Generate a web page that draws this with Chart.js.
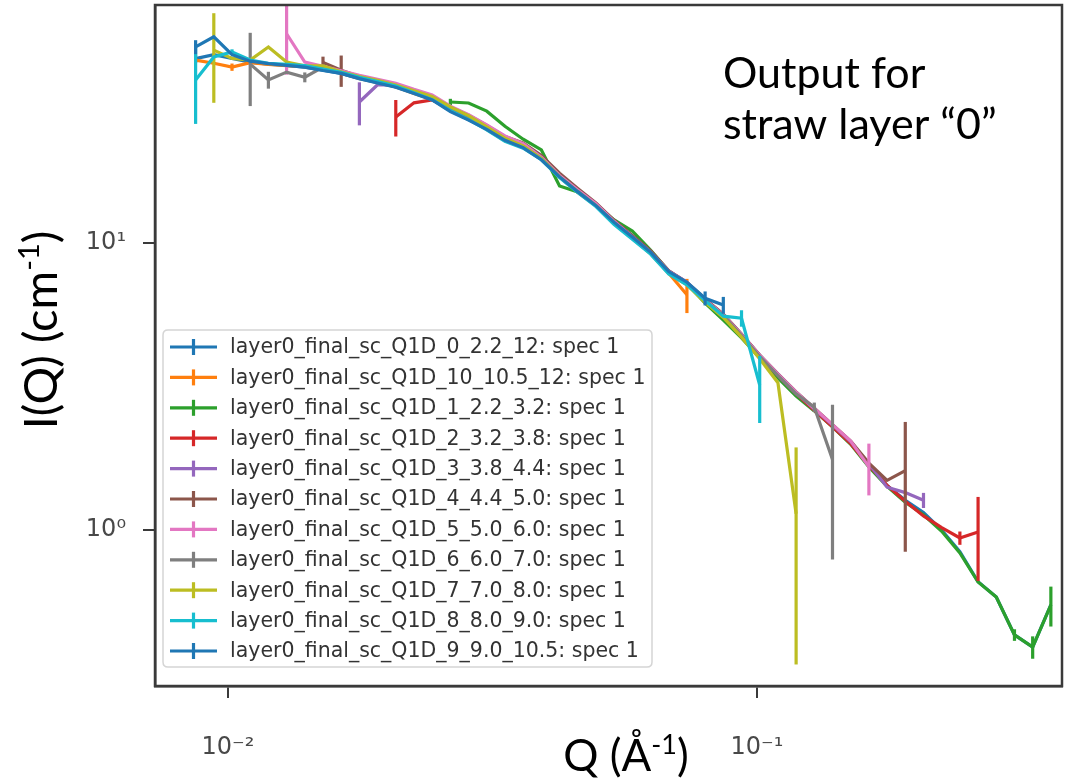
<!DOCTYPE html>
<html><head><meta charset="utf-8">
<script src="https://cdn.jsdelivr.net/npm/chart.js@4/dist/chart.umd.min.js"></script>
<style>html,body{margin:0;padding:0;background:#fff;}</style>
</head><body>
<canvas id="c" width="1069" height="778"></canvas>
<script>
const _ = null;
// Q grid (Å^-1)
const Q = [0.008685,0.009401,0.010176,0.011015,0.011923,0.012906,0.013970,0.015121,0.016368,0.017717,
0.019177,0.020758,0.022469,0.024321,0.026326,0.028496,0.030845,0.033388,0.036140,0.039119,
0.042344,0.045834,0.049612,0.053702,0.058129,0.062921,0.068108,0.073722,0.079799,0.086377,
0.093497,0.10120,0.10955,0.11858,0.12835,0.13893,0.15039,0.16278,0.17620,0.19072,
0.20645,0.22346,0.24189,0.26182,0.28341,0.30677,0.33206,0.35943];

const seriesNames = [
"layer0_final_sc_Q1D_0_2.2_12: spec 1",
"layer0_final_sc_Q1D_10_10.5_12: spec 1",
"layer0_final_sc_Q1D_1_2.2_3.2: spec 1",
"layer0_final_sc_Q1D_2_3.2_3.8: spec 1",
"layer0_final_sc_Q1D_3_3.8_4.4: spec 1",
"layer0_final_sc_Q1D_4_4.4_5.0: spec 1",
"layer0_final_sc_Q1D_5_5.0_6.0: spec 1",
"layer0_final_sc_Q1D_6_6.0_7.0: spec 1",
"layer0_final_sc_Q1D_7_7.0_8.0: spec 1",
"layer0_final_sc_Q1D_8_8.0_9.0: spec 1",
"layer0_final_sc_Q1D_9_9.0_10.5: spec 1"];

// I(Q) values (cm^-1), aligned with Q
const I_0 = [43.9,45.3,44.0,42.7,42.0,41.6,41.0,40.0,39.0,37.5,
36.3,35.1,33.4,31.8,29.5,27.4,25.3,23.1,21.7,19.6,
17.2,15.3,13.6,11.9,10.5,9.3,7.95,7.25,6.35,5.6,
4.8,4.05,3.48,3.0,2.62,2.30,2.01,1.69,1.43,1.27,
1.15,1.0,0.84,0.66,0.584,0.431,0.391,0.548];
const I_10 = [43.4,42.3,41.0,42.5,41.9,41.5,41.2,40.3,39.2,37.8,
36.5,35.0,33.2,31.6,29.0,27.0,24.9,22.7,21.5,19.6,
17.0,15.0,13.5,11.7,10.4,9.2,7.85,6.6,_,_,
_,_,_,_,_,_,_,_,_,_,
_,_,_,_,_,_,_,_];
const I_1 = [_,_,_,_,_,_,_,_,_,_,
_,_,_,_,31.0,30.75,28.8,25.5,23.0,21.1,
15.8,15.06,13.6,12.03,11.0,9.45,7.99,7.2,6.18,5.39,
4.67,3.98,3.39,2.93,2.60,2.29,1.99,1.66,1.42,1.25,
1.13,0.99,0.832,0.659,0.584,0.431,0.391,0.548];
const I_2 = [_,_,_,_,_,_,_,_,_,_,
_,27.5,30.8,31.5,29.4,27.5,25.4,23.2,21.9,19.8,
17.1,15.2,13.6,11.8,10.5,9.3,7.9,7.25,6.3,5.58,
4.76,4.03,3.46,2.99,2.61,2.29,2.0,1.68,1.43,1.26,
1.12,1.02,0.938,0.984,_,_,_,_];
const I_3 = [_,_,_,_,_,_,_,_,_,31.0,
35.6,35.4,33.8,32.2,29.6,27.6,25.5,23.3,22.0,20.0,
17.3,15.3,13.7,11.9,10.6,9.35,8.0,7.3,6.35,5.62,
4.8,4.06,3.5,3.02,2.64,2.32,2.03,1.7,1.41,1.35,
1.27,_,_,_,_,_,_,_];
const I_4 = [_,_,_,_,_,_,_,42.6,40.0,38.0,
36.8,35.6,33.9,32.3,29.8,27.9,25.7,23.5,22.3,20.2,
17.5,15.5,13.8,12.0,10.6,9.4,8.0,7.3,6.38,5.65,
4.82,4.07,3.5,3.03,2.66,2.33,2.04,1.71,1.49,1.61,
_,_,_,_,_,_,_,_];
const I_5 = [_,_,_,_,_,53.6,42.7,41.3,39.8,38.4,
37.2,36.0,34.3,32.8,30.0,28.0,25.8,23.6,22.2,19.9,
17.2,15.3,13.7,11.9,10.5,9.3,7.96,7.3,6.35,5.62,
4.8,4.06,3.49,3.02,2.65,2.33,2.04,1.66,_,_,
_,_,_,_,_,_,_,_];
const I_6 = [_,_,_,42.0,37.0,39.4,37.8,41.0,39.0,37.4,
36.2,35.0,33.3,31.8,29.2,27.2,25.1,22.9,21.7,19.7,
17.0,15.1,13.5,11.8,10.4,9.25,7.9,7.22,6.3,5.58,
4.76,4.02,3.45,2.98,2.68,1.76,_,_,_,_,
_,_,_,_,_,_,_,_];
const I_7 = [_,47.0,44.0,43.4,48.2,42.7,41.4,41.4,39.5,38.0,
36.9,35.5,33.9,32.4,29.8,27.8,25.4,23.2,21.8,19.7,
17.0,15.1,13.5,11.7,10.4,9.2,7.85,7.15,6.22,5.5,
4.7,3.95,3.26,1.14,_,_,_,_,_,_,
_,_,_,_,_,_,_,_];
const I_8 = [37.0,44.5,46.3,43.4,42.3,41.9,41.5,40.4,39.3,37.8,
36.5,35.2,33.4,31.6,28.9,26.9,24.8,22.6,21.4,19.5,
16.9,15.0,13.4,11.6,10.3,9.15,7.8,7.15,6.3,5.56,
5.47,3.2,_,_,_,_,_,_,_,_,
_,_,_,_,_,_,_,_];
const I_9 = [48.2,52.3,45.3,43.0,42.2,41.6,41.0,39.9,39.0,37.4,
36.1,34.9,33.2,31.5,28.7,26.8,24.9,22.8,21.5,19.5,
17.0,15.1,13.5,11.8,10.5,9.3,7.95,7.3,6.42,6.08,
_,_,_,_,_,_,_,_,_,_,
_,_,_,_,_,_,_,_];

// error bars: [index into Q, ±dI]
const E_0 = [[0,1.5]];
const E_10 = [[2,1.2],[27,0.9]];
const E_1 = [[14,0.8],[45,0.02],[46,0.035],[47,0.087]];
const E_2 = [[11,4.0],[42,0.05],[43,0.32]];
const E_3 = [[9,5.3],[40,0.077]];
const E_4 = [[7,2.0],[8,5.0],[39,0.77]];
const E_5 = [[5,15],[37,0.34]];
const E_6 = [[3,12],[4,2.5],[6,1.5],[34,0.1],[35,0.97]];
const E_7 = [[1,16.2],[33,0.80]];
const E_8 = [[0,11],[2,1.0],[30,0.36],[31,0.84]];
const E_9 = [[0,2.7],[28,0.36],[29,0.41]];

const xTicks = [0.01, 0.1];
const xTickLabels = ["10\u207B\u00B2", "10\u207B\u00B9"];
const yTicks = [1, 10];
const yTickLabels = ["10\u2070", "10\u00B9"];

const seriesI = [I_0,I_10,I_1,I_2,I_3,I_4,I_5,I_6,I_7,I_8,I_9];
const seriesE = [E_0,E_10,E_1,E_2,E_3,E_4,E_5,E_6,E_7,E_8,E_9];
const palette = ['#1f77b4','#ff7f0e','#2ca02c','#d62728','#9467bd','#8c564b','#e377c2','#7f7f7f','#bcbd22','#17becf','#1f77b4'];

const datasets = seriesI.map((arr, s) => ({
  label: seriesNames[s],
  data: Q.map((q, i) => arr[i] == null ? null : {x: q, y: arr[i]}).filter(p => p),
  src: arr, errs: seriesE[s],
  order: -s, // later series drawn on top, as in the original plot
  borderColor: palette[s], backgroundColor: palette[s],
  borderWidth: 3.2, pointRadius: 0, showLine: true, fill: false, tension: 0
}));

const errorBars = {
  id: 'errorBars',
  afterDatasetDraw(chart, args) {
    const ds = chart.data.datasets[args.index];
    const {ctx, chartArea: a, scales: {x, y}} = chart;
    ctx.save();
    ctx.beginPath(); ctx.rect(a.left, a.top, a.right - a.left, a.bottom - a.top); ctx.clip();
    ctx.strokeStyle = ds.borderColor; ctx.lineWidth = ds.borderWidth; ctx.lineCap = 'butt';
    for (const [k, d] of ds.errs) {
      const v = ds.src[k];
      const px = x.getPixelForValue(Q[k]);
      const top = y.getPixelForValue(v + d);
      const bot = (v - d) > 0 ? y.getPixelForValue(v - d) : a.bottom + 20;
      ctx.beginPath(); ctx.moveTo(px, top); ctx.lineTo(px, bot); ctx.stroke();
    }
    ctx.restore();
  }
};

function drawRich(ctx, parts, x, y, size, family, align) {
  const w = parts.reduce((s, [t, sup]) => {
    ctx.font = (sup ? Math.round(size * 0.62) : size) + 'px ' + family;
    return s + ctx.measureText(t).width;
  }, 0);
  let cx = align === 'center' ? x - w / 2 : x;
  ctx.textAlign = 'left'; ctx.textBaseline = 'alphabetic';
  for (const [t, sup] of parts) {
    ctx.font = (sup ? Math.round(size * 0.62) : size) + 'px ' + family;
    ctx.fillText(t, cx, sup ? y - size * 0.38 : y);
    cx += ctx.measureText(t).width;
  }
}

const decor = {
  id: 'decor',
  afterDraw(chart) {
    const {ctx, chartArea: a} = chart;
    ctx.save();
    ctx.strokeStyle = '#3a3a3a'; ctx.lineWidth = 2.5;
    ctx.strokeRect(a.left, a.top, a.right - a.left, a.bottom - a.top);

    // legend
    const lx = 163, ly = 330, lw = 489, lh = 337, r = 5;
    ctx.beginPath();
    ctx.moveTo(lx + r, ly); ctx.lineTo(lx + lw - r, ly); ctx.quadraticCurveTo(lx + lw, ly, lx + lw, ly + r);
    ctx.lineTo(lx + lw, ly + lh - r); ctx.quadraticCurveTo(lx + lw, ly + lh, lx + lw - r, ly + lh);
    ctx.lineTo(lx + r, ly + lh); ctx.quadraticCurveTo(lx, ly + lh, lx, ly + lh - r);
    ctx.lineTo(lx, ly + r); ctx.quadraticCurveTo(lx, ly, lx + r, ly); ctx.closePath();
    ctx.fillStyle = 'rgba(255,255,255,0.85)'; ctx.fill();
    ctx.strokeStyle = '#d5d5d5'; ctx.lineWidth = 1.5; ctx.stroke();
    chart.data.datasets.forEach((ds, i) => {
      const yy = 347 + i * 30.4;
      ctx.strokeStyle = ds.borderColor; ctx.lineWidth = 3.2;
      ctx.beginPath(); ctx.moveTo(170, yy); ctx.lineTo(217, yy); ctx.stroke();
      ctx.beginPath(); ctx.moveTo(193.5, yy - 8); ctx.lineTo(193.5, yy + 8); ctx.stroke();
      ctx.fillStyle = '#333'; ctx.font = '20.5px "DejaVu Sans"';
      ctx.textAlign = 'left'; ctx.textBaseline = 'middle';
      ctx.fillText(ds.label, 230, yy + 1);
    });

    // annotation
    ctx.fillStyle = '#000';
    ctx.font = '43px Lato'; ctx.textAlign = 'left'; ctx.textBaseline = 'alphabetic';
    ctx.fillText('Output for', 723, 88);
    ctx.fillText('straw layer \u201C0\u201D', 723, 139);

    // axis titles
    drawRich(ctx, [['Q (\u00C5', false], ['-1', true], [')', false]], 626, 771, 44, 'Lato', 'center');
    ctx.save();
    ctx.translate(57, 330); ctx.rotate(-Math.PI / 2);
    drawRich(ctx, [['I(Q) (cm', false], ['-1', true], [')', false]], 0, 0, 47, 'Lato', 'center');
    ctx.restore();
    ctx.restore();
  }
};

function zeroPad(s) { s.paddingTop = 0; s.paddingBottom = 0; s.paddingLeft = 0; s.paddingRight = 0; }

new Chart(document.getElementById('c'), {
  type: 'scatter',
  data: {datasets},
  options: {
    responsive: false, animation: false, devicePixelRatio: 1,
    layout: {padding: {left: 0, right: 7, top: 5, bottom: 0}},
    plugins: {legend: {display: false}, tooltip: {enabled: false}},
    scales: {
      x: {
        type: 'logarithmic', min: 0.0072778, max: 0.37728,
        afterBuildTicks: s => { s.ticks = xTicks.map(v => ({value: v})); },
        afterFit: s => { s.height = 92; zeroPad(s); },
        ticks: {autoSkip: false, maxRotation: 0, padding: 35, color: '#484848',
          font: {family: 'DejaVu Sans', size: 24},
          callback: v => xTickLabels[xTicks.indexOf(v)] ?? ''},
        grid: {drawOnChartArea: false, drawTicks: true, tickLength: 12, color: '#3a3a3a', lineWidth: 2},
        border: {display: true, color: '#3a3a3a', width: 2.5}
      },
      y: {
        type: 'logarithmic', min: 0.28608, max: 67.5,
        afterBuildTicks: s => { s.ticks = yTicks.map(v => ({value: v})); },
        afterFit: s => { s.width = 155; zeroPad(s); },
        ticks: {autoSkip: false, padding: 17, color: '#484848',
          font: {family: 'DejaVu Sans', size: 24},
          callback: v => yTickLabels[yTicks.indexOf(v)] ?? ''},
        grid: {drawOnChartArea: false, drawTicks: true, tickLength: 12, color: '#3a3a3a', lineWidth: 2},
        border: {display: true, color: '#3a3a3a', width: 2.5}
      }
    }
  },
  plugins: [errorBars, decor]
});
</script>
</body></html>
